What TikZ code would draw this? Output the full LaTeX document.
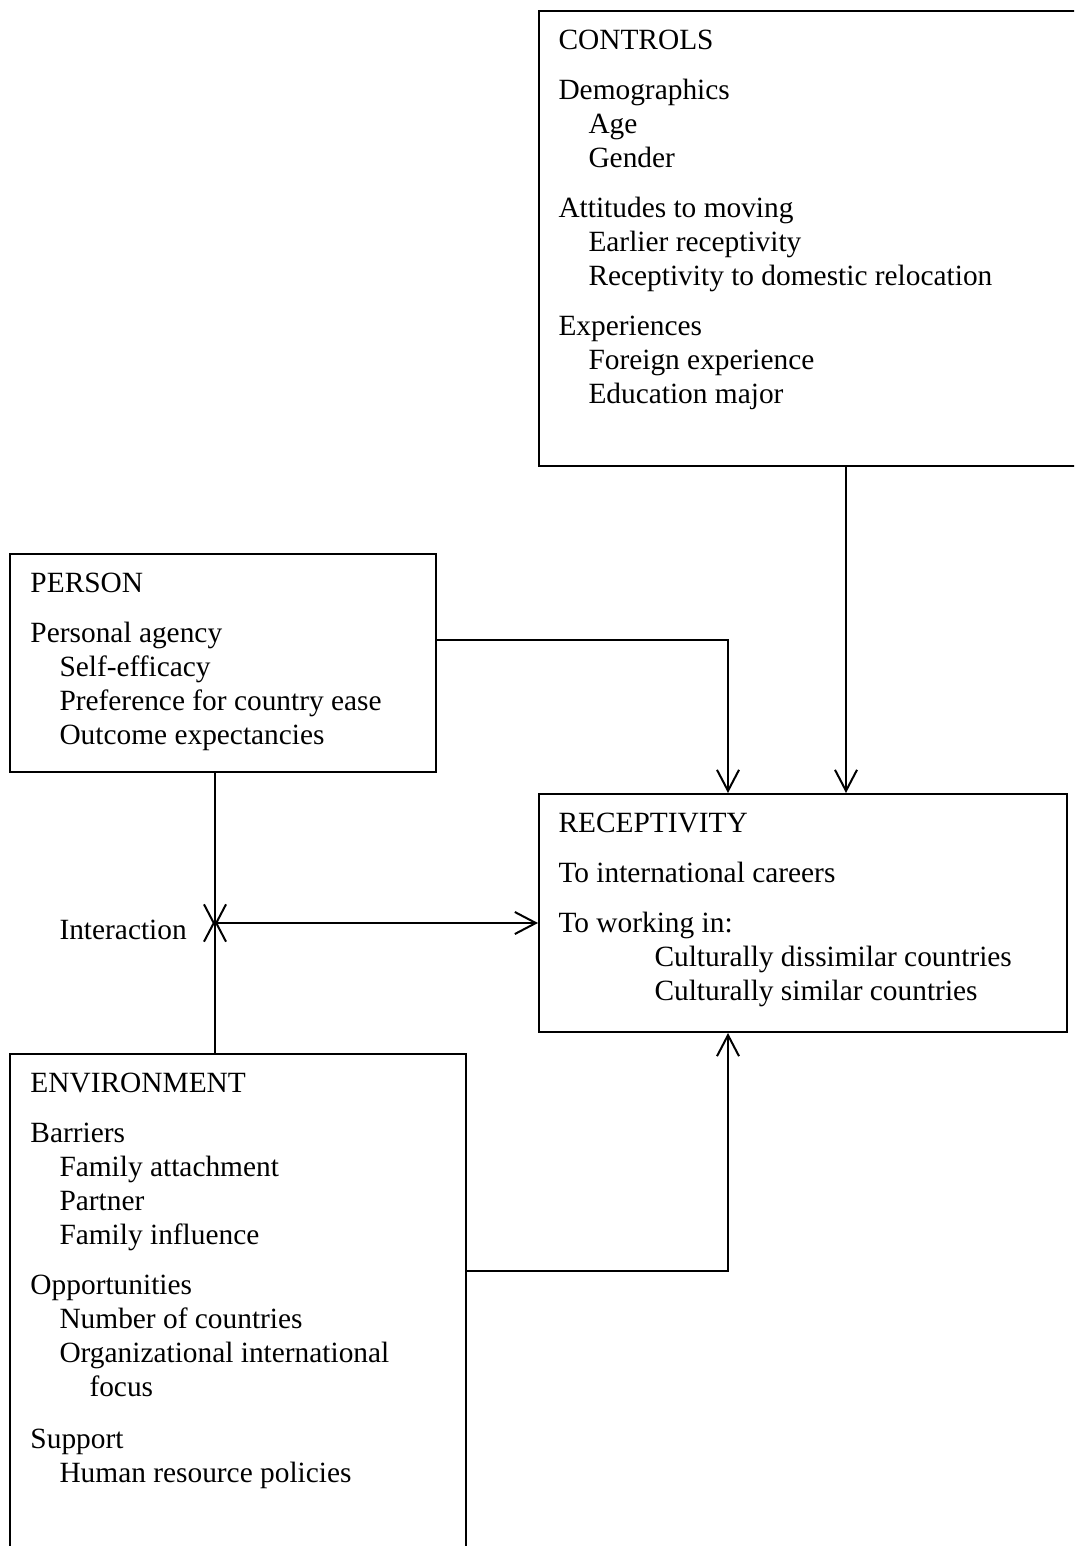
\documentclass[tikz,border=0pt]{standalone}
\usepackage{fontspec}
\setmainfont{Liberation Serif}
\usetikzlibrary{arrows.meta}
\tikzset{
  box/.style={draw, line width=0.8pt, anchor=north west, inner sep=0pt, rectangle},
  txt/.style={anchor=base west, inner sep=0pt},
  conn/.style={line width=0.8pt},
  arr/.style={conn, -{Straight Barb[length=8.4pt, width=8.8pt, line width=0.8pt]}}
}
\begin{document}
\begin{tikzpicture}[x=0.4pt, y=-0.4pt, font=\fontsize{11.75pt}{13.6pt}\selectfont]
\useasboundingbox (0,0) rectangle (1074,1546);
\clip (0,0) rectangle (1074,1546);
\fill[white] (0,0) rectangle (1074,1546);
% boxes
\node[box, minimum width=216.8pt, minimum height=182pt] (controls) at (538,10) {};
\node[box, minimum width=170.4pt, minimum height=87.2pt] (person) at (9,553) {};
\node[box, minimum width=211.2pt, minimum height=95.2pt] (receptivity) at (538,793) {};
\node[box, minimum width=182.4pt, minimum height=202.8pt] (environment) at (9,1053) {};
% controls text
\node[txt] (c1) at (558,49) {CONTROLS};
\node[txt] (c2) at (558,99) {Demographics};
\node[txt] (c3) at (588,133) {Age};
\node[txt] (c4) at (588,167) {Gender};
\node[txt] (c5) at (558,217) {Attitudes to moving};
\node[txt] (c6) at (588,251) {Earlier receptivity};
\node[txt] (c7) at (588,285) {Receptivity to domestic relocation};
\node[txt] (c8) at (558,335) {Experiences};
\node[txt] (c9) at (588,369) {Foreign experience};
\node[txt] (c10) at (588,403) {Education major};
% person text
\node[txt] (p1) at (30,592) {PERSON};
\node[txt] (p2) at (30,642) {Personal agency};
\node[txt] (p3) at (59,676) {Self-efficacy};
\node[txt] (p4) at (59,710) {Preference for country ease};
\node[txt] (p5) at (59,744) {Outcome expectancies};
% receptivity text
\node[txt] (r1) at (558,832) {RECEPTIVITY};
\node[txt] (r2) at (558,882) {To international careers};
\node[txt] (r3) at (558,932) {To working in:};
\node[txt] (r4) at (654,966) {Culturally dissimilar countries};
\node[txt] (r5) at (654,1000) {Culturally similar countries};
% environment text
\node[txt] (e1) at (30,1092) {ENVIRONMENT};
\node[txt] (e2) at (30,1142) {Barriers};
\node[txt] (e3) at (59,1176) {Family attachment};
\node[txt] (e4) at (59,1210) {Partner};
\node[txt] (e5) at (59,1244) {Family influence};
\node[txt] (e6) at (30,1294) {Opportunities};
\node[txt] (e7) at (59,1328) {Number of countries};
\node[txt] (e8) at (59,1362) {Organizational international};
\node[txt] (e9) at (89,1396) {focus};
\node[txt] (e10) at (30,1448) {Support};
\node[txt] (e11) at (59,1482) {Human resource policies};
% interaction
\node[txt] (inter) at (59,939) {Interaction};
% connector coordinates
\coordinate (k1) at (846,0);
\coordinate (k2) at (728,640);
\coordinate (k3) at (728,1271);
\coordinate (j) at (215,923);
% connectors
\draw[arr] (controls.south -| k1) -- (receptivity.north -| k1);
\draw[arr] (person.east |- k2) -| (receptivity.north -| k2);
\draw[arr] (environment.east |- k3) -| (receptivity.south -| k3);
\draw[arr, shorten >=-1.8pt] (person.south -| j) -- (j);
\draw[arr, shorten >=-1.8pt] (environment.north -| j) -- (j);
\draw[arr] (j) -- (receptivity.west |- j);
\end{tikzpicture}
\end{document}
